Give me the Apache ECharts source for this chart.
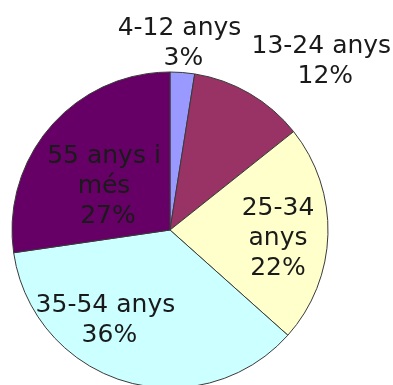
<!DOCTYPE html>
<html>
<head>
<meta charset="utf-8">
<script src="https://cdn.jsdelivr.net/npm/echarts@6/dist/echarts.min.js"></script>
<style>
html,body{margin:0;padding:0;background:#fff;}
#chart{width:393px;height:385px;}
</style>
</head>
<body>
<div id="chart"></div>
<script>
const categories = ["4-12 anys", "13-24 anys", "25-34 anys", "35-54 anys", "55 anys i més"];
const values = [2.5, 11.8, 22.3, 36.1, 27.3];
const colors = ["#9999FF", "#993366", "#FFFFCC", "#CCFFFF", "#660066"];
const labelWidths = [170, 170, 80, 170, 125];
const labelShift = [[7, -105], [114, -98], [26, 6], [-37, 12], [0, 10]];

const chart = echarts.init(document.getElementById('chart'), null, {renderer: 'canvas'});
chart.setOption({
  animation: false,
  backgroundColor: '#ffffff',
  series: [{
    type: 'pie',
    center: [170, 230],
    radius: [0, 158],
    startAngle: 90,
    clockwise: true,
    percentPrecision: 0,
    avoidLabelOverlap: false,
    itemStyle: {borderColor: '#3a3a3a', borderWidth: 1},
    label: {
      show: true,
      position: 'inside',
      formatter: '{b} {d}%',
      fontFamily: 'DejaVu Sans',
      fontSize: 25,
      lineHeight: 30,
      color: '#1a1a1a',
      align: 'center',
      overflow: 'break'
    },
    labelLine: {show: false},
    emphasis: {disabled: true},
    labelLayout: function (p) {
      const s = labelShift[p.dataIndex];
      return {dx: s[0], dy: s[1]};
    },
    data: categories.map((c, i) => ({
      name: c,
      value: values[i],
      itemStyle: {color: colors[i]},
      label: {width: labelWidths[i]}
    }))
  }]
});
</script>
</body>
</html>
